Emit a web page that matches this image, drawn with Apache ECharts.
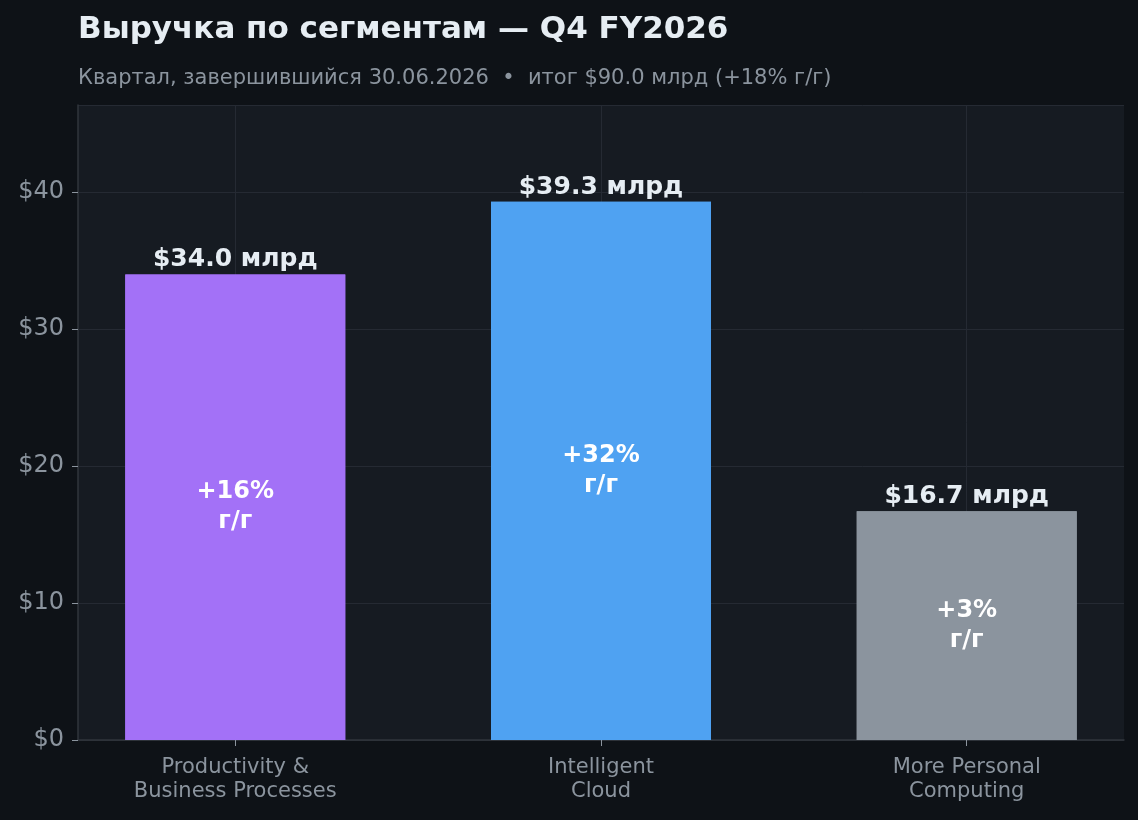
<!DOCTYPE html>
<html>
<head>
<meta charset="utf-8">
<script src="https://cdn.jsdelivr.net/npm/echarts@6/dist/echarts.min.js"></script>
<style>
	html, body { margin: 0; padding: 0; background: #0e1217; }
	#chart { width: 1138px; height: 820px; }
</style>
</head>
<body>
<div id="chart"></div>
<script>
var categories = ['Productivity &\nBusiness Processes', 'Intelligent\nCloud', 'More Personal\nComputing'];
var revenue = [34.0, 39.3, 16.7];
var growth = ['+16%', '+32%', '+3%'];
var barColors = ['#a371f7', '#4fa2f2', '#8b949e'];
var yTicks = [0, 10, 20, 30, 40];

var font = 'DejaVu Sans';
var chart = echarts.init(document.getElementById('chart'));

// bars sit on a numeric x axis (0, 1, 2) so the side padding matches the original
var catIdx = categories.map(function(c, i) { return i; });
var data = revenue.map(function(v, i) {
	return { value: [i, v], itemStyle: { color: barColors[i] } };
});

chart.setOption({
	backgroundColor: '#0e1217',
	animation: false,
	title: {
		text: 'Выручка по сегментам — Q4 FY2026',
		subtext: 'Квартал, завершившийся 30.06.2026  •  итог $90.0 млрд (+18% г/г)',
		left: 78,
		top: 14,
		padding: 0,
		itemGap: 23,
		textStyle: { color: '#e6edf3', fontFamily: font, fontSize: 31, fontWeight: 'bold' },
		subtextStyle: { color: '#8b949e', fontFamily: font, fontSize: 21 }
	},
	grid: {
		left: 78, right: 14, top: 105, bottom: 80,
		show: true, backgroundColor: '#161b22', borderWidth: 0
	},
	xAxis: {
		type: 'value',
		min: -0.43,
		max: 2.43,
		axisLine: { show: true, onZero: false, lineStyle: { color: '#30363d', width: 1.5 } },
		axisTick: { show: true, customValues: catIdx, length: 6, lineStyle: { color: '#8b949e' } },
		axisLabel: {
			customValues: catIdx,
			color: '#8b949e', fontFamily: font, fontSize: 21, lineHeight: 24, margin: 16,
			formatter: function(v) { return categories[Math.round(v)] || ''; }
		},
		splitLine: { show: true, lineStyle: { color: '#252a33', width: 1 } }
	},
	yAxis: {
		type: 'value',
		min: 0,
		max: 46.37,
		interval: 10,
		axisLine: { show: true, onZero: false, lineStyle: { color: '#30363d', width: 1.5 } },
		axisTick: { show: true, length: 6, lineStyle: { color: '#8b949e' } },
		axisLabel: {
			color: '#8b949e', fontFamily: font, fontSize: 24, margin: 14,
			showMaxLabel: false,
			formatter: function(v) { return yTicks.indexOf(v) >= 0 ? '$' + v : ''; }
		},
		splitLine: { show: true, lineStyle: { color: '#252a33', width: 1 } }
	},
	series: [
		{
			type: 'bar',
			data: data,
			barWidth: 220,
			label: {
				show: true,
				position: 'top',
				distance: 2,
				color: '#e6edf3',
				fontFamily: font,
				fontSize: 25,
				fontWeight: 'bold',
				formatter: function(p) { return '$' + p.value[1].toFixed(1) + ' млрд'; }
			}
		},
		{
			type: 'bar',
			data: data,
			barWidth: 220,
			barGap: '-100%',
			silent: true,
			z: 3,
			itemStyle: { color: 'transparent' },
			label: {
				show: true,
				position: 'inside',
				color: '#ffffff',
				fontFamily: font,
				fontSize: 24,
				fontWeight: 'bold',
				lineHeight: 30,
				formatter: function(p) { return growth[p.dataIndex] + '\nг/г'; }
			}
		}
	]
});
</script>
</body>
</html>
